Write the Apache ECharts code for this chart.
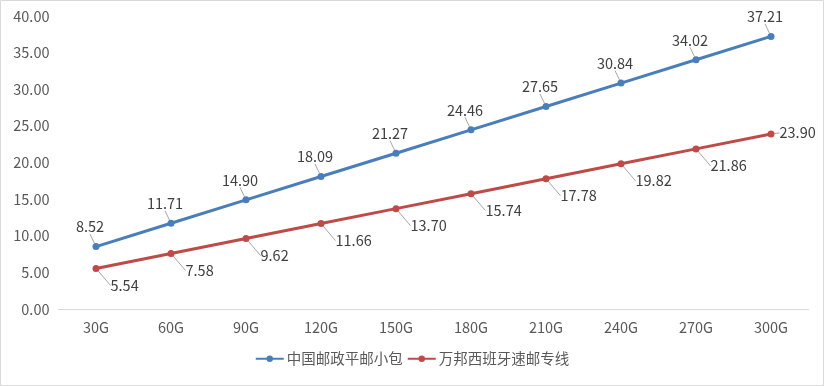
<!DOCTYPE html>
<html><head><meta charset="utf-8">
<script src="https://cdn.jsdelivr.net/npm/echarts@6/dist/echarts.min.js"></script>
<style>html,body{margin:0;padding:0;background:#fff}#c{width:824px;height:386px}</style>
</head><body><div id="c"></div>
<script>
const categories = ['30G','60G','90G','120G','150G','180G','210G','240G','270G','300G'];
const seriesNames = ['中国邮政平邮小包','万邦西班牙速邮专线'];
const chinaPost = [8.52,11.71,14.90,18.09,21.27,24.46,27.65,30.84,34.02,37.21];
const wanbang = [5.54,7.58,9.62,11.66,13.70,15.74,17.78,19.82,21.86,23.90];
const yTicks = {min:0, max:40, interval:5};

const font = '"Noto Sans CJK SC", "Microsoft YaHei", sans-serif';
const chart = echarts.init(document.getElementById('c'), null, {renderer:'canvas'});
const labelStyle = {show:true, fontFamily:font, fontSize:14.5, color:'#404040', formatter:p=>p.value.toFixed(2)};
const lastIdx = categories.length - 1;
chart.setOption({
  animation:false,
  backgroundColor:'#fff',
  graphic:[{type:'rect', shape:{x:0.5,y:0.5,width:823,height:385}, style:{fill:'none', stroke:'#d9d9d9', lineWidth:1}, silent:true}],
  grid:{left:58.5, right:15.5, top:16, bottom:77},
  legend:{bottom:15, left:'center', itemWidth:28, itemHeight:8, itemGap:4,
    textStyle:{fontFamily:font, fontSize:14.5, color:'#595959', padding:[0,0,0,-2]}},
  xAxis:{type:'category', data:categories, boundaryGap:true,
    axisLine:{lineStyle:{color:'#d9d9d9'}}, axisTick:{show:false},
    axisLabel:{fontFamily:font, fontSize:14.5, color:'#595959', margin:11}},
  yAxis:{type:'value', min:yTicks.min, max:yTicks.max, interval:yTicks.interval,
    splitLine:{show:false}, axisLine:{show:false}, axisTick:{show:false},
    axisLabel:{fontFamily:font, fontSize:14.5, color:'#595959', margin:9, formatter:v=>v.toFixed(2)}},
  series:[
    {name:seriesNames[0], type:'line', data:chinaPost, color:'#4a7ebb',
     symbol:'circle', symbolSize:7, lineStyle:{width:3}, itemStyle:{color:'#4a7ebb'},
     label:Object.assign({}, labelStyle, {position:'top', distance:0}),
     labelLayout:{dx:-6, dy:-9},
     labelLine:{show:true, lineStyle:{color:'#a6a6a6', width:1}}},
    {name:seriesNames[1], type:'line', data:wanbang, color:'#be4b48',
     symbol:'circle', symbolSize:7, lineStyle:{width:3}, itemStyle:{color:'#be4b48'},
     label:Object.assign({}, labelStyle, {position:'right', distance:0}),
     labelLayout:p => p.dataIndex === lastIdx ? {dx:5, dy:-1} : {dx:11, dy:17},
     labelLine:{show:true, lineStyle:{color:'#a6a6a6', width:1}}}
  ]
});
</script></body></html>
